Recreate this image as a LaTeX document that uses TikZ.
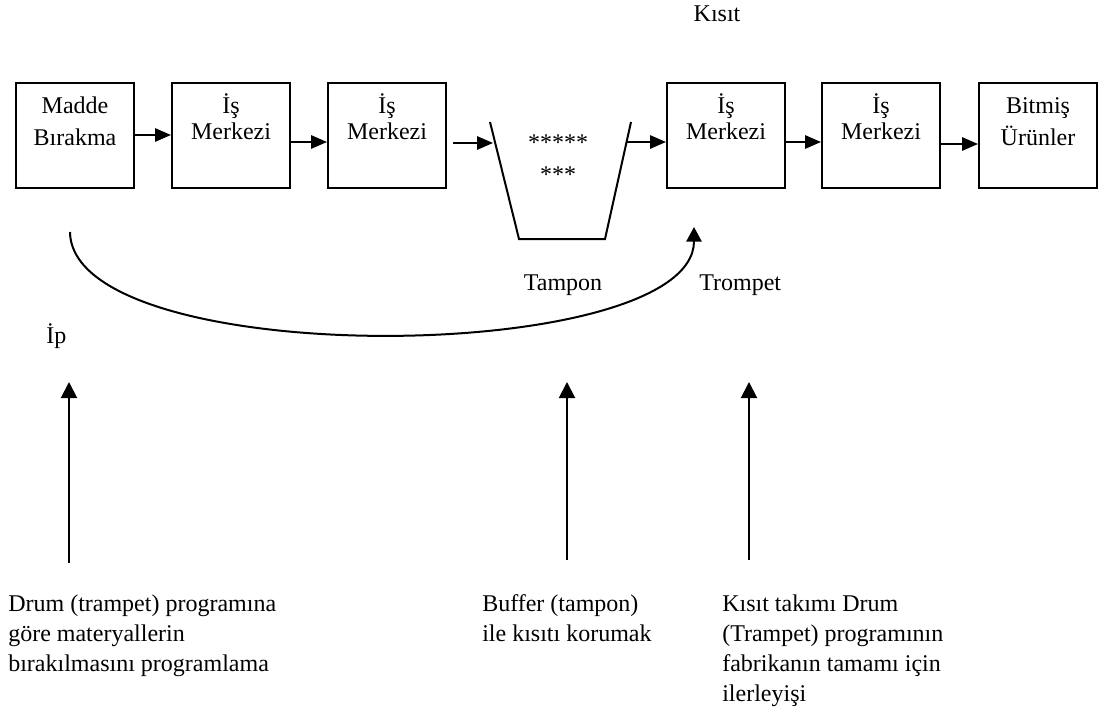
\documentclass[tikz,border=0pt]{standalone}
\usepackage{fontspec}
\setmainfont{Liberation Serif}
\usetikzlibrary{arrows.meta}
\begin{document}
\begin{tikzpicture}[x=0.75pt,y=-0.75pt,
  txt/.style={font=\fontsize{18}{21}\selectfont, inner sep=0pt},
  stage/.style={draw, line width=1.5pt, minimum width=88.5pt, minimum height=78.5pt, anchor=north west, inner sep=0pt},
  ln/.style={txt, anchor=base},
  lnw/.style={txt, anchor=base west},
  flow/.style={-{Triangle[length=12pt, width=10pt]}, line width=1.5pt},
  rope/.style={-{Triangle[length=11pt, width=11.5pt]}, line width=1.5pt},
  lead/.style={-{Triangle[length=12pt, width=12pt]}, line width=1.5pt}]
\useasboundingbox (0,0) rectangle (1099,713);

% production line
\node[stage] (b1) at (15,82) {};
\node[stage] (b2) at (171,82) {};
\node[stage] (b3) at (327,82) {};
\node[stage] (b4) at (666,82) {};
\node[stage] (b5) at (821,82) {};
\node[stage] (b6) at (978,82) {};

% box captions, one node per line
\node[ln] (t1a) at ([yshift=-24pt]b1.north) {Madde};
\node[ln] (t1b) at ([yshift=-47.5pt]b1.north) {Bırakma};
\node[ln] (t2a) at ([yshift=-24pt]b2.north) {İş};
\node[ln] (t2b) at ([yshift=-43.5pt]b2.north) {Merkezi};
\node[ln] (t3a) at ([yshift=-24pt]b3.north) {İş};
\node[ln] (t3b) at ([yshift=-43.5pt]b3.north) {Merkezi};
\node[ln] (t4a) at ([yshift=-24pt]b4.north) {İş};
\node[ln] (t4b) at ([yshift=-43.5pt]b4.north) {Merkezi};
\node[ln] (t5a) at ([yshift=-24pt]b5.north) {İş};
\node[ln] (t5b) at ([yshift=-43.5pt]b5.north) {Merkezi};
\node[ln] (t6a) at ([yshift=-24pt]b6.north) {Bitmiş};
\node[ln] (t6b) at ([yshift=-47.5pt]b6.north) {Ürünler};

% buffer in front of the constraint
\coordinate (buftl) at (490,122);
\coordinate (bufbl) at (519,239);
\coordinate (bufbr) at (605,239);
\coordinate (buftr) at (631,122);
\draw[line width=1.5pt] (buftl) -- (bufbl) -- (bufbr) -- (buftr);
\coordinate (bufin) at (493,143);
\coordinate (bufout) at (627,142);
\node[txt] (stars1) at (558,143) {*****};
\node[txt] (stars2) at (558,174.5) {***};

% flow arrows
\draw[flow] ([yshift=-39.75pt]b1.north east) -- ([yshift=-39.75pt]b2.north west);
\draw[flow] ([yshift=-45pt]b2.north east) -- ([yshift=-45pt]b3.north west);
\draw[flow] ([yshift=-45.75pt]b3.north east) ++(4.5pt,0) -- (bufin);
\draw[flow] (bufout) -- (bufout -| b4.west);
\draw[flow] ([yshift=-45pt]b4.north east) -- ([yshift=-45pt]b5.north west);
\draw[flow] ([yshift=-46.5pt]b5.north east) -- ([yshift=-46.5pt]b6.north west);

% rope from material release to the drum
\coordinate (ropestart) at (70,232);
\coordinate (ropeend) at (694,227);
\draw[rope] (ropestart) .. controls (72,372) and (694,366) .. (ropeend);

% labels
\node[ln] (kisit) at (717,22) {Kısıt};
\node[ln] (tampon) at (563,290) {Tampon};
\node[lnw] (trompet) at (699,290) {Trompet};
\node[lnw] (ip) at (46,343) {İp};

% explanatory notes
\node[lnw] (n1a) at (8,611) {Drum (trampet) programına};
\node[lnw] (n1b) at (8,641) {göre materyallerin};
\node[lnw] (n1c) at (8,671) {bırakılmasını programlama};
\node[lnw] (n2a) at (482,611) {Buffer (tampon)};
\node[lnw] (n2b) at (482,641) {ile kısıtı korumak};
\node[lnw] (n3a) at (722,611) {Kısıt takımı Drum};
\node[lnw] (n3b) at (722,641) {(Trampet) programının};
\node[lnw] (n3c) at (722,671) {fabrikanın tamamı için};
\node[lnw] (n3d) at (722,701) {ilerleyişi};

\coordinate (a1) at (69,563);
\coordinate (a2) at (567,560);
\coordinate (a3) at (749,560);
\draw[lead] (a1) -- (69,382);
\draw[lead] (a2) -- (567,382);
\draw[lead] (a3) -- (749,382);
\end{tikzpicture}
\end{document}
